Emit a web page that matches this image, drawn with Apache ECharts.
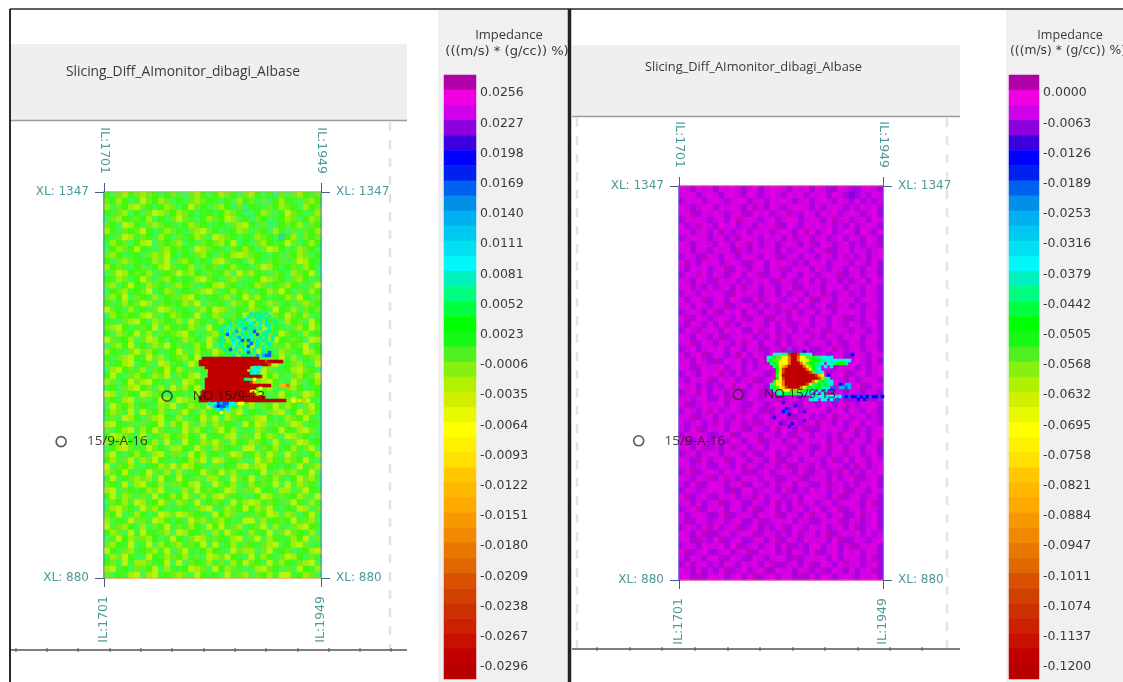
<!DOCTYPE html>
<html><head><meta charset="utf-8">
<style>html,body{margin:0;background:#fff}#c{width:1123px;height:682px;filter:blur(0.55px)}</style>
<script src="https://cdn.jsdelivr.net/npm/echarts@6/dist/echarts.min.js"></script>
</head><body><div id="c"></div>
<script>
// Colour classes of the impedance key, top to bottom
const bandColors = ['#b000a8','#f000e0','#d000e8','#8c00e0','#3c00e0','#0000ff','#0020f0','#0060f0','#0090e8','#00b0f0',
 '#00c8f0','#00e0f0','#00f8f8','#00f0c0','#00ff80','#00ff40','#00ff00','#18f818','#50f020','#88f010',
 '#b0f000','#d0f000','#e8f800','#ffff00','#fff000','#ffe000','#ffc800','#ffb800','#ffa800','#f89800',
 '#f08800','#e87800','#e06800','#d85000','#d04000','#cc3000','#cc2000','#c81000','#c00000','#b80000'];
const leftKeyLabels = ['0.0256','0.0227','0.0198','0.0169','0.0140','0.0111','0.0081','0.0052','0.0023','-0.0006','-0.0035','-0.0064','-0.0093','-0.0122','-0.0151','-0.0180','-0.0209','-0.0238','-0.0267','-0.0296'];
const rightKeyLabels = ['0.0000','-0.0063','-0.0126','-0.0189','-0.0253','-0.0316','-0.0379','-0.0442','-0.0505','-0.0568','-0.0632','-0.0695','-0.0758','-0.0821','-0.0884','-0.0947','-0.1011','-0.1074','-0.1137','-0.1200'];
const ilTicks = [1701,1949];
const xlTicks = [880,1347];
const wells = [['NO 15/9-13',1773,1100],['15/9-A-16',1652,1045]];
const mapTitle = 'Slicing_Diff_AImonitor_dibagi_AIbase';
// Letter -> colour class used in the cell tables below
const code = {d:0,m:1,p:2,q:3,u:4,n:5,b:7,e:9,c:12,t:13,s:14,f:15,g:16,h:18,i:20,j:22,y:23,o:27,a:31,v:34,r:38};

const leftCells = [
'gshigh ihgsgh fshigs gihgsh igsgth shigfh','hgigsf jhgihs gshihg fsgsig hshtgi gfshig','ishgij hgsgih sgjhgs higsht gfshgi hgsigh','gfhisg shjihg ihgsfg sgihgt sgihsg jhgsfi',
'shigfh gisgsh jhfsgi hgjisg thgsfg ihsgih','hgsjig shihgf sgihgs fgshij gshtsg hgishg','igshgh jgsfih gshijh gsfgih shgsig thshgi','gshjif hgsigs hfgihs jihgsg fihgse gishgh',
'fighsg ijshgh isgshg higjsg shigfg jhsgig','sgihgj gfshig hgsjih gfshgi gshjig sfihgs','higsfg shihjg sgfhig shgiji hgfsgs hgihsg','gshihg fgihjs higsgs ijhfgs igshgh shjigf',
'ighfsg hsgijh fgishg hsgifg shjigs ghfigs','shjigh gisfgh jhigsh fgisjh igfshg sihgjs','gfihsg jhshig sgfijh gshihs fgjihg shigsf','hisgjg fihgsh ighsfg ijhgsf gihsgh igfshj',
'sghifg hjsgih sgfhij hsgigh sfgihj gshfig','higjsh gfisgh hijgsf ghisgj higsfg ihjgsh','gsfigh jishgf gihjsh fgsihg jgfihs gshihg','jhgsif gshjih fgshig jihsgf ihgsjg fishgh',
'sighgf ijhsgi hgfjsg ihshgj fgsihg jhgisf','gfshij gsihgf isjhgs fighsg jihgfs ighsjg','hijgsf hgjsig fgihsj gfshig hsjigf shigjh','gsihgj fishgh ijgsfh igjshg fishgj hgsifg',
'jhfgis hjigsg fihgsj hgisjf gshijg fhgsji','shigjf gsihjg hsfigj shgifh jgishf ighjsg','igfshj higsfg jhsigf jhgsif hjgfsi hsgjig','gshijg fjhisg higjsf igshjf igshgj fisghi',
'hfgijs ghsjif gsjhig fshijg fhgijs ghifsj','sijghf ishgjg ifhsgj ihgsfj igjhsf gijhgs','gjfshi gfihjs hgijsf hjgsif shjgif shighj','ihsgjh ijgfsh sjigfh gsijhg fhijgs fjhsgi',
'fgshij ghsifj higjsg fijhgs jghifs higsfg','jishgf jihgsf gsfihj gihfsj higsfj gshjig','hgfijs hsgjif jihgsg fjsihg jfgshi hjgifs','sjhgif gfsihj sgihfj shjgif ishgjf igshjg',
'gihfjs jhgifs hjgsif gfihjs gfshij sgjhif','fhsjig shijgf isfgjh jsihgf hijgsf ihgjfs','ijgfhs hfgjsi gjhsif ihgfsj gjishf hjisgf','hsgijf igjhfs fjhigs hjgisf sihfgj gfijhs',
'gjihfs jsfhig higsjf gfijsh fjgihs jihgsf','ifhjgs hgisjf sjgfih jhsigf ihgsjf shjifg','sgijhf fjhgsi igfjhs ihgfsj jshgif gifhjs','hjfsgi gsijfh hsjgif gshjif gifjhs jhfsgi',
'gifhjs ihjgfs fgihjs jifghs sjhigf ihgjfs','jshgif sfgihj hjigfs hsgfij hijgfs gsjfhi','ihgjfs gjhfis isfgjh gjhifs fgjshi hifgjs','fjsghi hisjgf jgfhsi ifsjhg jshgif sgjhif',
'hgfjsi jfgish hgijfs jhgisf ighfjs jfihgs','ijshgf gihjfs sifjgh gfjish hjfgsi ishjgf','gjfihs hsjfgi gjhsif ijhfgs sgjifh fgihsj','shgifj ifgjhs ihfjsg hgsjfi jifhgs hjgsif',
'fijhgs jhigsf fgshij sfihgj gihjfs gfjish','hgjsfi gsfjih jihgfs jgihsf fhgjis ihsgjf','isgfjh hfjigs gsjhif higsfj jsifgh gjfhis','jfhigs ishgjf hfigsj gjfhis ghjsif shijgf',
'gihsjf jgfhis jigfhs ifjhgs ifgjsh jhgfis','sfjgih higsfj gshjif hgfijs hjsigf figjsh','higfjs fjsigh ifhgjs jsgifh gfhijs gijhsf','jgshif ghifjs hjfsgi gfsjhi ishjfg hsfgij',
'fihjgs sjgfih gifhsj ihjgfs jfigsh jigshf','ghsjfi ihfgjs jshgfi fhsigj hgsjfi gfhijs','ijfgsh hgjsif fgjihs jgihfs fijhgs hsjgfi','hsgfij sijfgh ihsjgf gsjfhi shgifj jfgihs'
];
const leftPatch = [
'....................t.ss.t...','...................s.t.ts.s','................s.tc..ts.t.s','.............t.s.t..ct.s.t..t',
'...........s.t..st.st..c.ts..','..........t..c.s.te.st.t..t.s','..........s.t..e.c.t.b...ts','...........sb.t..t.st.b.st..s',
'..........t..s.te.t.c..s.t.t','.........s.t..t.sb.b..t.ts.s','..........t...c.t..sb.t..st','..........s..s.c.t.b..t.t.s',
'...........t.b.t..ct.t..s','............s...t..b.s..t.b','..............t..ss.t.e.ebb','....rrrrrrrrrrrrrrrrrrr',
'...rrrrrrrrrrrrrrrrrrrrrrvrrrrr','...rrrrrrrrrrrrrrrrrrrrrrrv','.....rrrrrrrrrrrrrrr.ctc','......rrrrrrrrrrrrr.tcc',
'......rrrrrrrrrrrrrrsct','......rrrrrrrrrrrrrrrrrr','.....rrrrrrrrrrrrrss.y','.....rrrrrrrrrrrrrrrvo',
'.....rrrrrrrrrrrrrrrrrrrrrr...ooa','.....rrrrrrrrrrrrrrrrr.y','....rrrrrrrrrrrrrrrryy','....rrrrrrrrrrrrrrrrrv.y',
'...rrrrrrrrrrrrrrrrrrrrrr','...rrrrrrrrrrrrrrrrrrrrrrrrrrrrr..y.jo.j','......t.cbebbcc.yy','.......cenbbec.s',
'.........ce.c','..........j'
];
const rightCells = [
'mpqmpm qmpmpq pmqpmm pqmpmq mpqqmp qqpmpq','pmmqpm pqmmpq mpqpmp qmpmqp pmqmpq uqpqmp','qmpmqp mpqpmm qpmqmp mpqpmq pmpqmp qmqpqp','mpqpmm qmpmpq mdpqmp qpmmpq mqpmpq pqmpmq',
'pmdqmp mpqpmd qmpmqp mdpqmp qmpmqp mpqpmq','qmpmpq pmqmdp mpqpmq pmmqpm pqmdpm qpmqmp','mqpdmp qmpmqp pqmpmd qmpqmp mpmqpq mqpmpq','pmqpmq mdpqpm qmpmqp mpqmdm qpmqpm pqmpqm',
'qpmmpq pmqpdm mpqmpm qmdpmq pmqpmq mpqmpq','mpqpmp qmpqmp dmqpmq pmpqmd qmpqpm qpqmpq','pmqmpq mpmqdp qmpmpq mqpmpq mpdqpm qmpqpm','qmpqdm pqmpqm mpqmpd qpmqmp qmpqmd pqmqpm',
'mdpqmp mqpmpq dpmqmp mpqpqm pmqpmp qmpqmq','pqmpmq pmdqmp qmpqmp dqmpmq mpqmpq mpqmpq','qmpdmq mpqpmq mpdqpm qmpqmp qpmpdq pmqpmq','mpqmpq dmpmqp qmpmqd mpqpmq mqpmqp qpmqmp',
'pmdpqm qpmqmd pmqmpq pmdqmp pqmpmq mpqmpq','qmpqmp mpqdmp mpqpmq mqpmqp mdpqpm qpqmpq','mqpmdq pmqmpq qmdpmp qpmqmd qmpqmp mqpmpq','pmqmpq mpdqpm pqmqpd mpqmpq pmqdpm qpqpmq',
'qpmpqm dqmpmq mpqmpq pdmqpm qmpqmp mpqmpq','mdqmpq pmpqmd qpmqdm pqmpmq mpqmpd qpqmpq','pqmpqm qmdpqm pmpqmq mdqpmq pmqmpq mpqpmq','qmpdpm pqmpmq qmdpmq pmqmqp mqdpmp qmpqpq',
'mpqmpq mdqpmp mqpqmd pqmpmd pqmpqm pmqpmq','pmdqmp qmpqmd pmqmpq mqpmqp mpqmdq mpqmpq','qpmqpm pmqmpq mpdqmp dmqpmq qpmdpq pmqpmq','mqpmdq mpqpdm qmpqmp mpqdmq pmqpmq qmpqmp',
'pmqmpq dqmpmq pqmdqm qpmpqm mqdpmq pmpqmq','mpqdmp pmqpmq mqpmpq pdqmpm qpmqmp mqpqpm','qmpqmp mdpqmq pmpqdm mqpmpq mpqpmd qpmqpm','pqmpmd qmpmqp mdqpmq mpqmdq pmqmpq mqpmpq',
'mpmqpq pqmdpm qmpqpm dqmpqm mpqmpq pmdqmp','qpmdmq mpqmpq pmdqmp qmpqmp qmdpmq mpqmpq','pmqpmq qmdpmq mpqmpd qpmqpm pmqmpq qpmdqm','mdqpmp pmqmpq qmpqpm mpdqmp qmpqmd pqmpmq',
'qmpqmd mqpmpd pmqdqm pqmqpm mpqpmq mpqmpq','pmdqpm qmpqmp mqpmqp mdqpmq pqmdpm qpmqpq','mqpmqp dmqpmq pdqmpm qpmqpm dmpqmq pmqmpq','pqmdqm pmqmpd qmpqmd mpqmdq qmpmpq mdpqpm',
'qmpmpq qpmdqm mpqmpq mqdpmq mpqpdm pqmqpm','mdqpmq mpqmpq pmdqpm qpmqmp pmqmqp qmpqmd','pmqmdq pqmdpm qpmqmp mdqmpq qmdpmq mpqmpq','qpmqpm mqpmpq mdqpmq pqmpmq mpqmpd pmqpmq',
'mpqdmq pmdqmp qmpqmd qpmqpm pqmdqm qmpqmp','pmqpmq qmpqmd mpqpmq mdqmpq mqpmpq pdmqpm','qmdqpm pqmpmq dqpmqp mpqmdq pmqpdm qpqmpm','mpqmpd qmdpqm pmqmpq qpmdqp mpqmqp mdqpmq',
'pqmdqm mpqpmd qmpqmd pmqmpq qmdpmq pqmpmq','qmpqpm pmqdqm mqpmpq mdqpqm pmqpmd qmpqmp','mdqpmq qmpmqp pdmqpm qpmqmp mpqmdq pmqpmq','pmqmqp mdqpmq qmpqmd pqmdpm qpmqpm mpqmdq',
'qpmdqm pmqmpq mdqpmq mqpmqp mqpmdq pmqmpq','mqpmpq qmdqpm pqmpmd qmpqmd pmqpmq qmdpmq','pdqmpq pmqpmq qmdqpm pmqmpq qmpmdq mpqpmq','qmpqmd mqpmdq pmqpqm dqmpqm pmqpmq mdqpmq',
'mpqmdq qpmqpm mdqmpq pqmdpm qmdqpm pmqmqp','pmqdpq mdqpmq qpmqmd qmpqmp pmqmdq qmpqpm','qmpqmp pmqmdq pmqpmq mdqpqm mqpmqp dqmpmq','mdqpmq qpmqpm dqmpmq pqmpqm dqpmqm pmqmpq',
'pqmpqm mdqmpq qmpqpm mqdqpm pmqmqp mpqmdq','qmdpmq pqmpqm pmqmdq qpmqmd qmpqmd pmqpmq','mpqmqp qmdqpm qpmdqm pmqmpq pdqmpq mqpmdq','pmqdqm pmqpmq mdqpmq mpqdqm qmpqpm pqmpmq'
];
const rightPatch = [
'........b....n','...cccssvrrvsscc.............n','.csghhjyarrayjhhgsscctc','.sghhjyyarrayyjhgggssctcccscc',
'..sghjyyarrrajhggssc.ccsgggs','...sgjoarrrrrajhgst.c.t','....gjvrrrrrrrajgsc','....gjvrrrrrrrrvhstc',
'....hjrrrrrrrrrrrvoj.n','....gyvrrrrrrrrrrrvoht','...gjyarrrrrrrrrajhgstc','..shjyarrrrrrrvjhsgsgst..n.ee',
'..sghyovrrrrajhgsggstt.b.eebe','...shhjyyohjhgsss.t.c.b','....scgsgshssssc.c.t','................csccsscctcbnbnnbnbnbnnbn',
'...............ttc.cc.c.b......n.n','......u','..........u','.......n',
'......nb.....u','........u..','...u.....','.............u',
'.....u...n','........u'
];

const teal = '#4d9a9c', textCol = '#3a3a3a';
const idx = n => Array.from({length:n},(_,i)=>String(i));
const cells = rows => {
  const out = [];
  rows.forEach((r,y) => r.replace(/ /g,'').split('').forEach((ch,x) => { if (ch in code) out.push([x,y,code[ch]]); }));
  return out;
};
const grid=[], xAxis=[], yAxis=[], series=[];
let heatIdx=[];
const addHeat=(rect,rows,cols,nrows,bg,opacity)=>{
  const g=grid.length;
  grid.push(Object.assign({show:!!bg,backgroundColor:bg||'transparent',borderWidth:0},rect));
  xAxis.push({type:'category',gridIndex:g,show:false,data:idx(cols)});
  yAxis.push({type:'category',gridIndex:g,show:false,inverse:true,data:idx(nrows)});
  heatIdx.push(series.length);
  series.push({type:'heatmap',xAxisIndex:xAxis.length-1,yAxisIndex:yAxis.length-1,data:cells(rows),progressive:0,silent:true,z:2,itemStyle:{opacity:opacity||1}});
};
const addOverlay=(rect,edgeCol,sideCol)=>{
  const g=grid.length;
  grid.push(Object.assign({show:false},rect));
  const xa=pos=>({type:'value',gridIndex:g,position:pos,min:ilTicks[0],max:ilTicks[1],splitLine:{show:false},
    axisLine:{onZero:false,lineStyle:{color:edgeCol,width:1.5}},axisTick:{length:9,customValues:ilTicks,lineStyle:{color:'#3f5f86'}},
    axisLabel:{customValues:ilTicks,rotate:90,margin:18,color:teal,fontSize:12.5,fontFamily:'DejaVu Sans',formatter:v=>'IL:'+v,showMinLabel:true,showMaxLabel:true}});
  const ya=pos=>({type:'value',gridIndex:g,position:pos,min:xlTicks[0],max:xlTicks[1],splitLine:{show:false},
    axisLine:{onZero:false,lineStyle:{color:sideCol,width:1.5}},axisTick:{length:9,customValues:xlTicks,lineStyle:{color:'#3f5f86'}},
    axisLabel:{customValues:xlTicks,margin:15,color:teal,fontSize:12,fontFamily:'DejaVu Sans',formatter:v=>'XL: '+v,showMinLabel:true,showMaxLabel:true}});
  xAxis.push(xa('top')); const xi=xAxis.length-1; xAxis.push(xa('bottom'));
  yAxis.push(ya('left')); const yi=yAxis.length-1; yAxis.push(ya('right'));
  series.push({type:'scatter',xAxisIndex:xi,yAxisIndex:yi,clip:false,z:6,silent:true,symbol:'circle',symbolSize:10,
    itemStyle:{color:'rgba(0,0,0,0)',borderColor:'#2e2e2e',borderWidth:1.6},
    data:wells.map(w=>({name:w[0],value:[w[1],w[2]]})),
    label:{show:true,position:'right',distance:20,formatter:'{b}',color:'#111',fontSize:13.5,fontFamily:'Open Sans'}});
};
const addKey=(rect,labels)=>{
  const g=grid.length;
  grid.push(Object.assign({show:false},rect));
  xAxis.push({type:'category',gridIndex:g,show:false,data:['k']});
  yAxis.push({type:'category',gridIndex:g,inverse:true,position:'right',data:idx(bandColors.length),
    axisLine:{show:false},axisTick:{show:false},
    axisLabel:{interval:0,margin:4,color:textCol,fontSize:12.5,fontFamily:'DejaVu Sans',verticalAlign:'top',padding:[4,0,0,0],
      formatter:(v,i)=>i%2===0?labels[i/2]:''}});
  heatIdx.push(series.length);
  series.push({type:'heatmap',xAxisIndex:xAxis.length-1,yAxisIndex:yAxis.length-1,silent:true,progressive:0,
    data:bandColors.map((c,i)=>[0,i,i])});
};
// left map
addHeat({left:104,top:192,width:217,height:386},leftCells,36,64,'#8cf018',0.5);
addHeat({left:190,top:312,width:120,height:102},leftPatch,40,34);
addOverlay({left:104,top:192,width:217,height:386},'#f0a060','#5a70c0');
addKey({left:444,top:75,width:32,height:604},leftKeyLabels);
// right map
addHeat({left:679,top:186,width:204,height:394},rightCells,36,64,'#cc00e0',0.5);
addHeat({left:764,top:350,width:120,height:78},rightPatch,40,26);
addOverlay({left:679,top:186,width:204,height:394},'#f06090','#6a50e0');
addKey({left:1009,top:75,width:30,height:604},rightKeyLabels);

const rect=(x,y,w,h,fill)=>({type:'rect',z:-10,silent:true,shape:{x,y,width:w,height:h},style:{fill}});
const line=(x1,y1,x2,y2,stroke,lineWidth,dash)=>({type:'line',z:-5,silent:true,shape:{x1,y1,x2,y2},style:{stroke,lineWidth,lineDash:dash||null}});
const gfx=[
  rect(438,10,130,672,'#f0f0f0'),rect(1006,10,117,672,'#f0f0f0'),
  rect(11,44,396,76,'#efefef'),rect(572,45,388,71,'#efefef'),
  line(11,120.5,407,120.5,'#9a9a9a',1.5),line(572,116.5,960,116.5,'#9a9a9a',1.5),
  line(390,122,390,650,'#e2e2e2',2.5,[9,9]),line(577,118,577,650,'#e4e4e4',2.5,[9,9]),line(947,118,947,650,'#e4e4e4',2.5,[9,9]),
  line(11,650,407,650,'#555',1.3),line(572,649,960,649,'#555',1.3),
  line(10,9,1123,9,'#2a2a2a',1.6),line(10,9,10,682,'#2a2a2a',2),line(569.5,9,569.5,682,'#222',3.5)
];
[16,47,78,110,141,172,204,235,266,298,329,360,391].forEach(x=>gfx.push(line(x,648,x,652,'#555',1)));
[597,630,662,695,728,760,793,825,858,890,922].forEach(x=>gfx.push(line(x,647,x,651,'#555',1)));

const ttl=(text,left,top,size,family,align)=>({text,left,top,textAlign:align||'left',textStyle:{color:textCol,fontSize:size,fontWeight:'normal',fontFamily:family}});
const option={
  animation:false,backgroundColor:'#fff',
  title:[ttl(mapTitle,61,60,13.8,'Open Sans'),ttl(mapTitle,640,56,12.8,'Open Sans'),
    ttl('Impedance',504,24,13,'Open Sans','center'),ttl('(((m/s) * (g/cc)) %)',502,40,13.1,'DejaVu Sans','center'),
    ttl('Impedance',1065,24,12.6,'Open Sans','center'),ttl('(((m/s) * (g/cc)) %)',1063,40,12.3,'DejaVu Sans','center')],
  visualMap:{type:'piecewise',show:false,seriesIndex:heatIdx,dimension:2,pieces:bandColors.map((color,i)=>({value:i,color}))},
  grid,xAxis,yAxis,series,graphic:{elements:gfx}
};
echarts.init(document.getElementById('c'),null,{renderer:'canvas'}).setOption(option);
</script></body></html>
